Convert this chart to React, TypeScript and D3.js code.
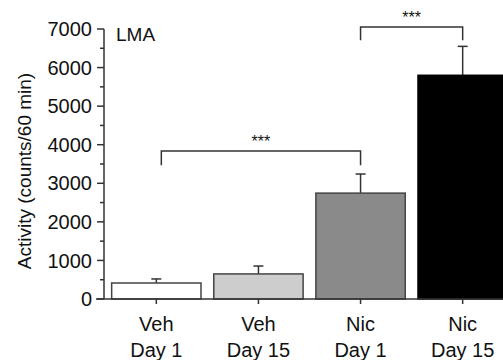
import * as d3 from 'd3';

const categories = ['Veh Day 1', 'Veh Day 15', 'Nic Day 1', 'Nic Day 15'];
const labelLine1 = ['Veh', 'Veh', 'Nic', 'Nic'];
const labelLine2 = ['Day 1', 'Day 15', 'Day 1', 'Day 15'];
const means = [415, 650, 2745, 5800];
const sems = [105, 205, 495, 750];
const fills = ['#ffffff', '#cdcdcd', '#8a8a8a', '#000000'];
const yTicks = [0, 1000, 2000, 3000, 4000, 5000, 6000, 7000];
const yMinorTicks = [500, 1500, 2500, 3500, 4500, 5500, 6500];
// significance brackets: from / to category index, height of bracket (data units)
const brackets = [
  { from: 0, to: 2, level: 3840, drop: 3470, label: '***' },
  { from: 2, to: 3, level: 7050, drop: 6710, label: '***' },
];

const W = 503;
const H = 360;
const FONT = 'Liberation Sans, Arial, Helvetica, sans-serif';
const AX = '#333';

export default function App() {
  const x = d3.scaleBand<string>()
    .domain(categories)
    .range([104, 515])
    .paddingInner(0.125)
    .paddingOuter(0.075);
  const y = d3.scaleLinear().domain([0, 7000]).range([299, 29]);
  const cx = (i: number) => (x(categories[i]) as number) + x.bandwidth() / 2;

  return (
    <svg width={W} height={H} style={{ position: 'absolute', left: 0, top: 0, background: '#fff' }}
      fontFamily={FONT}>
      {/* bars */}
      {categories.map((c, i) => (
        <g key={c}>
          <line x1={cx(i)} x2={cx(i)} y1={y(means[i])} y2={y(means[i] + sems[i])} stroke={AX} strokeWidth={1.5} />
          <line x1={cx(i) - 5} x2={cx(i) + 5} y1={y(means[i] + sems[i])} y2={y(means[i] + sems[i])} stroke={AX} strokeWidth={1.5} />
          <rect x={x(c)} y={y(means[i])} width={x.bandwidth()} height={y(0) - y(means[i])}
            fill={fills[i]} stroke={i === 3 ? '#000' : '#444'} strokeWidth={1.5} />
        </g>
      ))}

      {/* y axis */}
      <line x1={104} x2={104} y1={y(7000)} y2={y(0)} stroke={AX} strokeWidth={1.5} />
      {yTicks.map(t => (
        <g key={t}>
          <line x1={97} x2={104} y1={y(t)} y2={y(t)} stroke={AX} strokeWidth={1.5} />
          <text x={92} y={y(t)} dy="0.36em" textAnchor="end" fontSize={20} fill="#111">{t}</text>
        </g>
      ))}
      {yMinorTicks.map(t => (
        <line key={t} x1={100} x2={104} y1={y(t)} y2={y(t)} stroke={AX} strokeWidth={1.5} />
      ))}
      <text transform={`translate(31,${(y(0) + y(7000)) / 2 + 7}) rotate(-90)`} textAnchor="middle"
        fontSize={19} fill="#111">Activity (counts/60 min)</text>

      {/* x axis */}
      <line x1={96} x2={W} y1={y(0)} y2={y(0)} stroke={AX} strokeWidth={1.5} />
      {categories.map((c, i) => (
        <g key={c}>
          <line x1={cx(i)} x2={cx(i)} y1={y(0)} y2={y(0) + 5} stroke={AX} strokeWidth={1.5} />
          <text x={cx(i)} y={331} textAnchor="middle" fontSize={20} fill="#111">{labelLine1[i]}</text>
          <text x={cx(i)} y={357} textAnchor="middle" fontSize={20} fill="#111">{labelLine2[i]}</text>
        </g>
      ))}

      {/* brackets */}
      {brackets.map((b, k) => {
        const x1 = cx(b.from) + (k === 0 ? 5 : 0);
        const x2 = cx(b.to);
        return (
          <g key={k}>
            <path d={`M${x1},${y(b.drop)}V${y(b.level)}H${x2}V${y(b.drop)}`} fill="none" stroke={AX} strokeWidth={1.5} />
            <text x={(x1 + x2) / 2} y={y(b.level) - 4} textAnchor="middle" fontSize={16} fill="#111">{b.label}</text>
          </g>
        );
      })}

      <text x={116} y={41} fontSize={19} fill="#111">LMA</text>
    </svg>
  );
}
